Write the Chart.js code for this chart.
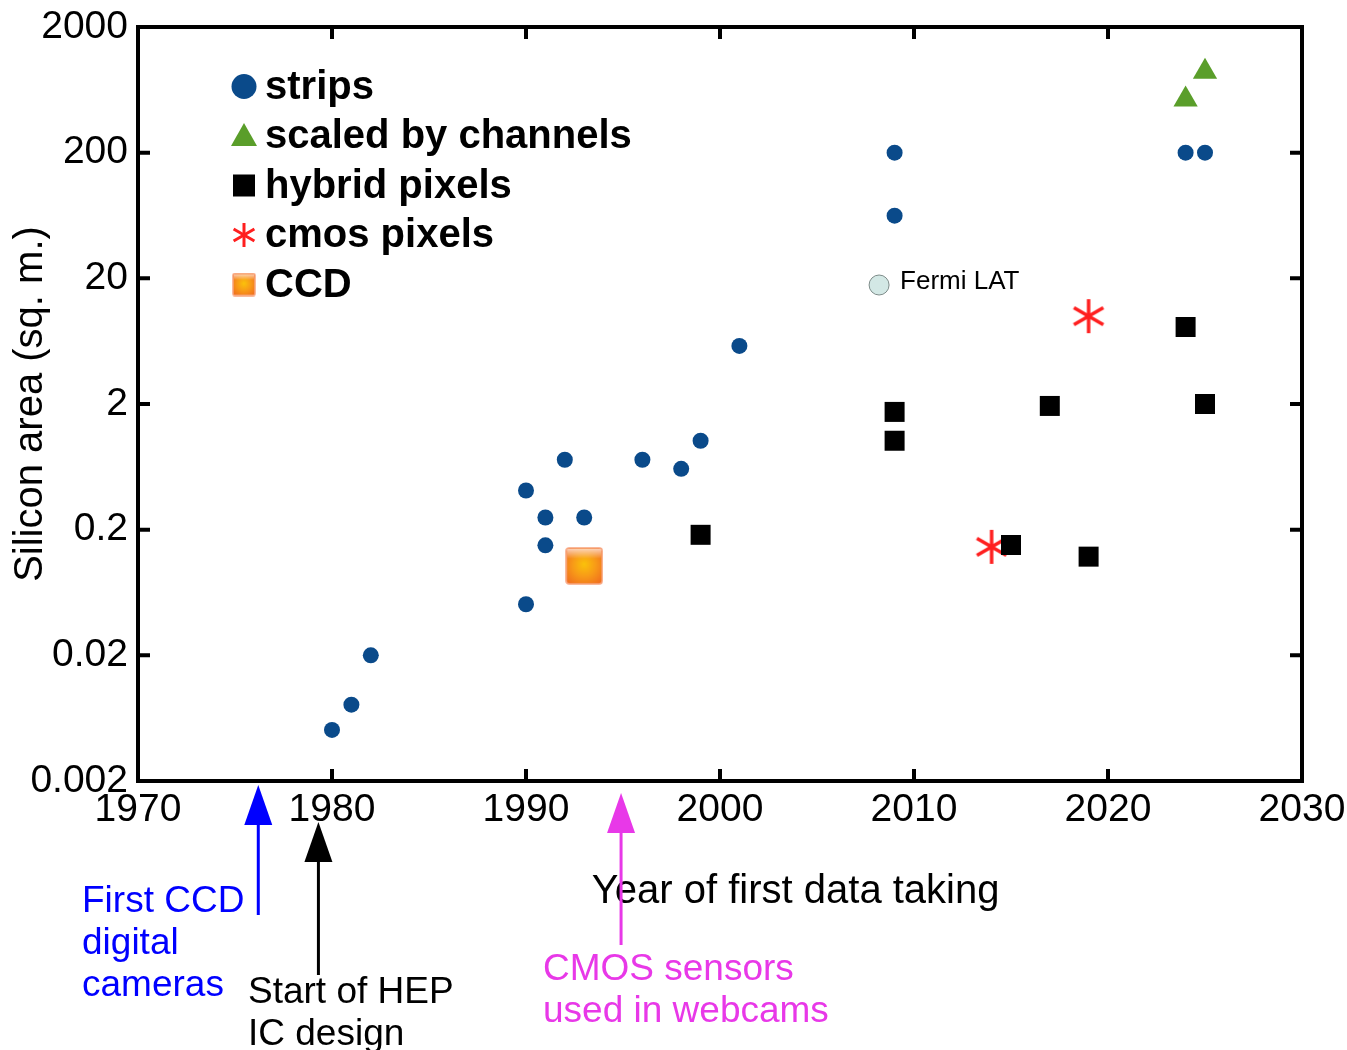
<!DOCTYPE html>
<html>
<head>
<meta charset="utf-8">
<script src="https://cdn.jsdelivr.net/npm/chart.js@4.4.1/dist/chart.umd.min.js"></script>
<style>
  html, body { margin: 0; padding: 0; background: #fff; }
  #wrap { width: 1347px; height: 1050px; position: relative; }
</style>
</head>
<body>
<div id="wrap"><canvas id="siliconChart"></canvas></div>
<script>
/* global Chart */

// data (year, area in sq. m.)
var stripsYears = [1980, 1981, 1982, 1990, 1990, 1991, 1991, 1992, 1993, 1996, 1998, 1999, 2001, 2009, 2009, 2024, 2025];
var stripsArea = [0.0051, 0.0081, 0.02, 0.051, 0.41, 0.25, 0.15, 0.72, 0.25, 0.72, 0.61, 1.02, 5.8, 63, 200, 200, 200];
var channelsYears = [2024, 2025];
var channelsArea = [530, 880];
var hybridYears = [1999, 2009, 2009, 2015, 2017, 2019, 2024, 2025];
var hybridArea = [0.182, 1.73, 1.02, 0.151, 1.93, 0.122, 8.2, 2.0];
var cmosYears = [2014, 2019];
var cmosArea = [0.146, 10.0];
var ccdYears = [1993];
var ccdArea = [0.103];
var fermiYears = [2008.2];
var fermiArea = [17.7];

var yTicks = [0.002, 0.02, 0.2, 2, 20, 200, 2000];
var yTickLabels = ["0.002", "0.02", "0.2", "2", "20", "200", "2000"];
var xTicks = [1970, 1980, 1990, 2000, 2010, 2020, 2030];

var legendLabels = ["strips", "scaled by channels", "hybrid pixels", "cmos pixels", "CCD"];
var fermiLabel = "Fermi LAT";
var xTitle = "Year of first data taking";
var yTitle = "Silicon area (sq. m.)";
var ccdNote = ["First CCD", "digital", "cameras"];
var hepNote = ["Start of HEP", "IC design"];
var cmosNote = ["CMOS sensors", "used in webcams"];

var FONT = "'Liberation Sans', Arial, sans-serif";
var BLUE = "#0a4a8a";
var GREEN = "#5a9e2a";
var RED = "#ff1f1f";

function pts(xs, ys) {
  return xs.map(function (x, i) {
    return { x: x, y: ys[i] };
  });
}

function makeAsterisk(size, lw) {
  var c = document.createElement("canvas");
  c.width = size + 4;
  c.height = size + 4;
  var ctx = c.getContext("2d");
  var cx = c.width / 2, cy = c.height / 2, r = size / 2;
  ctx.strokeStyle = RED;
  ctx.lineWidth = lw;
  for (var k = 0; k < 3; k++) {
    var a = Math.PI / 2 + (k * Math.PI) / 3;
    ctx.beginPath();
    ctx.moveTo(cx + Math.cos(a) * r, cy + Math.sin(a) * r);
    ctx.lineTo(cx - Math.cos(a) * r, cy - Math.sin(a) * r);
    ctx.stroke();
  }
  return c;
}

function makeCCD(size) {
  var c = document.createElement("canvas");
  c.width = size + 2;
  c.height = size + 2;
  var ctx = c.getContext("2d");
  var x0 = 1, y0 = 1, cx = c.width / 2, cy = c.height / 2;
  var g = ctx.createRadialGradient(cx, cy - size * 0.05, 0, cx, cy, size * 0.72);
  g.addColorStop(0, "#fbc20a");
  g.addColorStop(0.45, "#f89a18");
  g.addColorStop(1, "#ef6420");
  ctx.beginPath();
  ctx.roundRect(x0, y0, size, size, size * 0.08);
  ctx.fillStyle = g;
  ctx.fill();
  var gl = ctx.createLinearGradient(0, y0, 0, y0 + size * 0.3);
  gl.addColorStop(0, "rgba(255,235,225,0.85)");
  gl.addColorStop(1, "rgba(255,235,225,0)");
  ctx.fillStyle = gl;
  ctx.fillRect(x0 + 1, y0 + 1, size - 2, size * 0.3);
  ctx.lineWidth = 1.5;
  ctx.strokeStyle = "#f8a47e";
  ctx.stroke();
  return c;
}

var starPoint = makeAsterisk(34, 3.5);
var ccdPoint = makeCCD(36);
var starLegend = makeAsterisk(24, 3);
var ccdLegend = makeCCD(22);

// frame, inward ticks, legend, labels and notes under the axis
var decorations = {
  id: "decorations",
  afterDatasetsDraw: function (chart) {
    var ctx = chart.ctx;
    var a = chart.chartArea;
    var xs = chart.scales.x;
    var ys = chart.scales.y;
    ctx.save();

    ctx.strokeStyle = "#000";
    ctx.lineWidth = 4;
    ctx.strokeRect(a.left, a.top, a.right - a.left, a.bottom - a.top);
    xTicks.slice(1, -1).forEach(function (v) {
      var px = xs.getPixelForValue(v);
      ctx.beginPath();
      ctx.moveTo(px, a.bottom);
      ctx.lineTo(px, a.bottom - 12);
      ctx.moveTo(px, a.top);
      ctx.lineTo(px, a.top + 12);
      ctx.stroke();
    });
    yTicks.slice(1, -1).forEach(function (v) {
      var py = ys.getPixelForValue(v);
      ctx.beginPath();
      ctx.moveTo(a.left, py);
      ctx.lineTo(a.left + 12, py);
      ctx.moveTo(a.right, py);
      ctx.lineTo(a.right - 12, py);
      ctx.stroke();
    });

    // legend
    var lx = a.left + 106, tx = a.left + 127;
    ctx.font = "bold 40px " + FONT;
    ctx.textBaseline = "middle";
    ctx.textAlign = "left";
    legendLabels.forEach(function (label, i) {
      var ly = a.top + 59.5 + i * 49.5;
      if (i === 0) {
        ctx.fillStyle = BLUE;
        ctx.beginPath();
        ctx.arc(lx, ly, 12.5, 0, Math.PI * 2);
        ctx.fill();
      } else if (i === 1) {
        ctx.fillStyle = GREEN;
        ctx.beginPath();
        ctx.moveTo(lx, ly - 13);
        ctx.lineTo(lx + 13, ly + 10);
        ctx.lineTo(lx - 13, ly + 10);
        ctx.closePath();
        ctx.fill();
      } else if (i === 2) {
        ctx.fillStyle = "#000";
        ctx.fillRect(lx - 11, ly - 11, 22, 22);
      } else if (i === 3) {
        ctx.drawImage(starLegend, lx - starLegend.width / 2, ly - starLegend.height / 2);
      } else {
        ctx.drawImage(ccdLegend, lx - ccdLegend.width / 2, ly - ccdLegend.height / 2);
      }
      ctx.fillStyle = "#000";
      ctx.fillText(label, tx, ly + 1);
    });

    // Fermi LAT label
    ctx.font = "26px " + FONT;
    ctx.fillText(fermiLabel, xs.getPixelForValue(fermiYears[0]) + 21, ys.getPixelForValue(fermiArea[0]) - 3);

    // x title
    ctx.font = "40px " + FONT;
    ctx.textAlign = "center";
    ctx.fillText(xTitle, xs.getPixelForValue(2003.9), a.bottom + 111);

    // arrows and notes
    var notes = [
      { year: 1976.2, tip: 4, base: 44, tail: 134, color: "#0000ff", lines: ccdNote, tx: 82, ty: 121 },
      { year: 1979.3, tip: 41, base: 81, tail: 194, color: "#000000", lines: hepNote, tx: 248, ty: 212 },
      { year: 1994.9, tip: 12, base: 52, tail: 164, color: "#e838e8", lines: cmosNote, tx: 543, ty: 189 },
    ];
    notes.forEach(function (n) {
      var px = xs.getPixelForValue(n.year);
      ctx.strokeStyle = n.color;
      ctx.fillStyle = n.color;
      ctx.lineWidth = 3;
      ctx.beginPath();
      ctx.moveTo(px, a.bottom + n.base - 2);
      ctx.lineTo(px, a.bottom + n.tail);
      ctx.stroke();
      ctx.beginPath();
      ctx.moveTo(px, a.bottom + n.tip);
      ctx.lineTo(px + 14, a.bottom + n.base);
      ctx.lineTo(px - 14, a.bottom + n.base);
      ctx.closePath();
      ctx.fill();
      ctx.font = "37px " + FONT;
      ctx.textAlign = "left";
      n.lines.forEach(function (t, k) {
        ctx.fillText(t, n.tx, a.bottom + n.ty + k * 42);
      });
    });
    ctx.restore();
  },
};

var ctx = document.getElementById("siliconChart").getContext("2d");
var siliconChart = new Chart(ctx, {
  type: "scatter",
  data: {
    datasets: [
      {
        label: "hybrid pixels",
        data: pts(hybridYears, hybridArea),
        pointStyle: "rect",
        pointRadius: 14.14,
        pointHoverRadius: 14.14,
        backgroundColor: "#000",
        borderWidth: 0,
        order: 0,
      },
      {
        label: "cmos pixels",
        data: pts(cmosYears, cmosArea),
        pointStyle: starPoint,
        order: 1,
      },
      {
        label: "strips",
        data: pts(stripsYears, stripsArea),
        pointStyle: "circle",
        pointRadius: 8,
        pointHoverRadius: 8,
        backgroundColor: BLUE,
        borderWidth: 0,
        order: 2,
      },
      {
        label: "scaled by channels",
        data: pts(channelsYears, channelsArea),
        pointStyle: "triangle",
        pointRadius: 14,
        pointHoverRadius: 14,
        backgroundColor: GREEN,
        borderWidth: 0,
        order: 3,
      },
      {
        label: "CCD",
        data: pts(ccdYears, ccdArea),
        pointStyle: ccdPoint,
        order: 4,
      },
      {
        label: "Fermi LAT",
        data: pts(fermiYears, fermiArea),
        pointStyle: "circle",
        pointRadius: 10,
        pointHoverRadius: 10,
        backgroundColor: "#d3e8e5",
        borderColor: "#7d8b89",
        borderWidth: 1,
        order: 5,
      },
    ],
  },
  options: {
    responsive: true,
    maintainAspectRatio: false,
    animation: false,
    events: [],
    layout: {
      padding: { top: 27, right: 45, left: 0, bottom: 0 },
    },
    plugins: {
      legend: { display: false },
      tooltip: { enabled: false },
    },
    scales: {
      x: {
        type: "linear",
        min: 1970,
        max: 2030,
        grid: { display: false, drawTicks: false },
        border: { display: false },
        afterBuildTicks: function (scale) {
          scale.ticks = xTicks.map(function (v) {
            return { value: v };
          });
        },
        afterFit: function (scale) {
          scale.height = 269;
          scale.paddingLeft = 0;
          scale.paddingRight = 0;
        },
        ticks: {
          padding: 6,
          maxRotation: 0,
          autoSkip: false,
          color: "#000",
          font: { family: FONT, size: 39 },
          callback: function (v) {
            return String(v);
          },
        },
      },
      y: {
        type: "logarithmic",
        min: 0.002,
        max: 2000,
        grid: { display: false, drawTicks: false },
        border: { display: false },
        afterBuildTicks: function (scale) {
          scale.ticks = yTicks.map(function (v) {
            return { value: v };
          });
        },
        afterFit: function (scale) {
          scale.width = 138;
          scale.paddingTop = 0;
          scale.paddingBottom = 0;
        },
        title: {
          display: true,
          text: yTitle,
          color: "#000",
          font: { family: FONT, size: 40 },
          padding: { top: 7, bottom: 0 },
        },
        ticks: {
          padding: 10,
          autoSkip: false,
          color: "#000",
          font: { family: FONT, size: 39 },
          callback: function (v) {
            var i = yTicks.indexOf(v);
            return i >= 0 ? yTickLabels[i] : "";
          },
        },
      },
    },
  },
  plugins: [decorations],
});
</script>
</body>
</html>
